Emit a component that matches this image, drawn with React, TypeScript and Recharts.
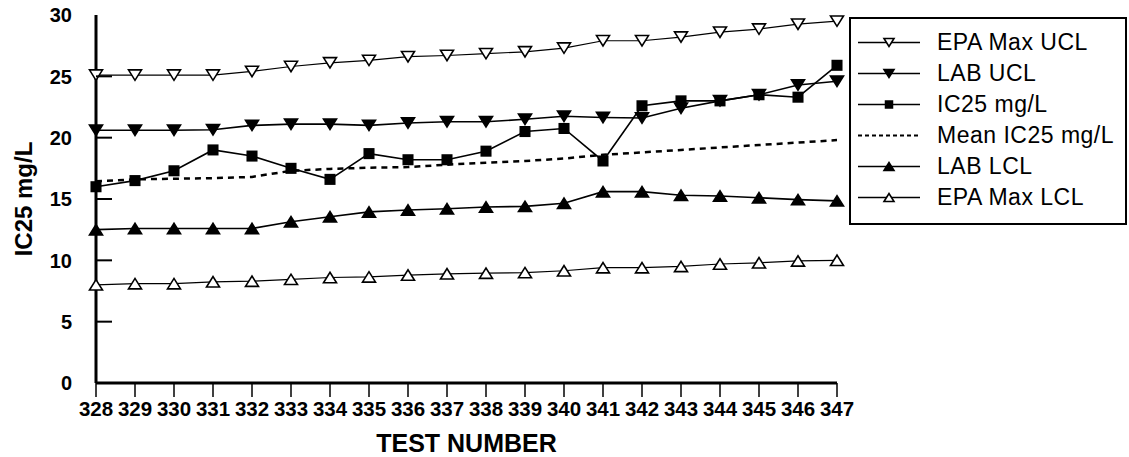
import React from "react";
import { LineChart, Line, XAxis, YAxis, Legend, Label } from "recharts";

const testNumbers = [328, 329, 330, 331, 332, 333, 334, 335, 336, 337, 338, 339, 340, 341, 342, 343, 344, 345, 346, 347];
const epaMaxUcl = [25.1, 25.1, 25.1, 25.1, 25.4, 25.8, 26.1, 26.3, 26.6, 26.7, 26.85, 27.0, 27.3, 27.9, 27.9, 28.2, 28.6, 28.85, 29.25, 29.5];
const labUcl = [20.6, 20.6, 20.6, 20.65, 21.0, 21.1, 21.1, 21.0, 21.2, 21.3, 21.3, 21.5, 21.75, 21.65, 21.6, 22.4, 23.0, 23.5, 24.3, 24.6];
const ic25 = [16.0, 16.5, 17.3, 19.0, 18.5, 17.5, 16.6, 18.7, 18.2, 18.2, 18.9, 20.5, 20.75, 18.1, 22.6, 23.0, 23.0, 23.5, 23.3, 25.9];
const meanIc25 = [16.45, 16.6, 16.65, 16.7, 16.8, 17.3, 17.45, 17.55, 17.6, 17.8, 17.95, 18.1, 18.3, 18.6, 18.8, 19.0, 19.2, 19.4, 19.6, 19.8];
const labLcl = [12.5, 12.6, 12.6, 12.6, 12.6, 13.15, 13.55, 13.95, 14.1, 14.2, 14.35, 14.4, 14.65, 15.6, 15.6, 15.3, 15.25, 15.1, 14.95, 14.85];
const epaMaxLcl = [8.0, 8.1, 8.1, 8.25, 8.3, 8.45, 8.6, 8.65, 8.8, 8.9, 8.95, 9.0, 9.15, 9.4, 9.4, 9.5, 9.7, 9.8, 9.95, 10.0];
const yTicks = [0, 5, 10, 15, 20, 25, 30];

const data = testNumbers.map((t, i) => ({
  test: t,
  epaMaxUcl: epaMaxUcl[i],
  labUcl: labUcl[i],
  ic25: ic25[i],
  meanIc25: meanIc25[i],
  labLcl: labLcl[i],
  epaMaxLcl: epaMaxLcl[i],
}));

const FONT = "'Liberation Sans', Arial, Helvetica, sans-serif";

type Shape = "triDownOpen" | "triDown" | "square" | "none" | "triUp" | "triUpOpen";

const series: { key: string; name: string; shape: Shape; width: number; dash?: string }[] = [
  { key: "epaMaxUcl", name: "EPA Max UCL", shape: "triDownOpen", width: 1.2 },
  { key: "labUcl", name: "LAB UCL", shape: "triDown", width: 1.6 },
  { key: "ic25", name: "IC25 mg/L", shape: "square", width: 1.6 },
  { key: "meanIc25", name: "Mean IC25 mg/L", shape: "none", width: 2.5, dash: "6 5" },
  { key: "labLcl", name: "LAB LCL", shape: "triUp", width: 1.6 },
  { key: "epaMaxLcl", name: "EPA Max LCL", shape: "triUpOpen", width: 1.2 },
];

const marker = (shape: Shape, cx: number, cy: number, s: number, key?: string) => {
  const h = s * 0.8;
  switch (shape) {
    case "triDownOpen":
    case "triDown":
      return (
        <polygon
          key={key}
          points={`${cx - s},${cy - h} ${cx + s},${cy - h} ${cx},${cy + h}`}
          fill={shape === "triDown" ? "#000" : "#fff"}
          stroke="#000"
          strokeWidth={1.6}
        />
      );
    case "triUpOpen":
    case "triUp":
      return (
        <polygon
          key={key}
          points={`${cx - s},${cy + h} ${cx + s},${cy + h} ${cx},${cy - h}`}
          fill={shape === "triUp" ? "#000" : "#fff"}
          stroke="#000"
          strokeWidth={1.6}
        />
      );
    case "square":
      return <rect key={key} x={cx - s * 0.85} y={cy - s * 0.85} width={s * 1.7} height={s * 1.7} fill="#000" />;
    default:
      return <g key={key} />;
  }
};

// legend keeps the series order (recharts sorts the payload by name otherwise)
const renderLegend = () => (
  <div style={{ border: "2px solid #000", background: "#fff", padding: "8px 0 10px 0", width: 278, boxSizing: "border-box" }}>
    {series.map((s) => (
      <div key={s.key} style={{ display: "flex", alignItems: "center", height: 31 }}>
        <svg width={72} height={31} style={{ flex: "none" }}>
          <line x1={7} x2={69} y1={15.5} y2={15.5} stroke="#000" strokeWidth={s.dash ? 2 : 1.3} strokeDasharray={s.dash ? "4 3" : undefined} />
          {marker(s.shape, 38, 15.5, 5)}
        </svg>
        <span style={{ marginLeft: 14, fontSize: 23, fontFamily: FONT, color: "#000", whiteSpace: "nowrap", letterSpacing: 0.5 }}>
          {s.name}
        </span>
      </div>
    ))}
  </div>
);

const YTick = (props: any) => {
  const { x, y, payload } = props;
  const v = payload.value;
  return (
    <g>
      {v > 0 && v < 30 && <line x1={x} x2={x + 16} y1={y} y2={y} stroke="#000" strokeWidth={2} />}
      <text x={x - 24} y={y} dy="0.36em" textAnchor="end" fontSize={20} fontWeight="bold" fontFamily={FONT} fill="#000">
        {v}
      </text>
    </g>
  );
};

export default function App() {
  return (
    <div style={{ position: "absolute", left: 0, top: 0, background: "#fff" }}>
      <LineChart width={1129} height={457} data={data} margin={{ top: 15, right: 292, bottom: 0, left: 0 }} style={{ fontFamily: FONT }}>
        <XAxis
          dataKey="test"
          type="number"
          domain={[328, 347]}
          ticks={testNumbers}
          interval={0}
          height={74}
          tickSize={14}
          tickMargin={4}
          axisLine={{ stroke: "#000", strokeWidth: 3 }}
          tickLine={{ stroke: "#000", strokeWidth: 1.5 }}
          tick={{ fill: "#000", fontSize: 20.5, fontWeight: "bold" }}
        >
          <Label value="TEST NUMBER" position="insideBottom" offset={5} style={{ fontSize: 25, fontWeight: "bold", fill: "#000" }} />
        </XAxis>
        <XAxis xAxisId="top" orientation="top" dataKey="test" type="number" domain={[328, 347]} height={0} tick={false} tickLine={false} axisLine={{ stroke: "#000", strokeWidth: 2.5 }} />
        <YAxis
          domain={[0, 30]}
          ticks={yTicks}
          width={96}
          tickSize={0}
          tickMargin={0}
          axisLine={{ stroke: "#000", strokeWidth: 3 }}
          tickLine={false}
          tick={<YTick />}
        >
          <Label value="IC25 mg/L" angle={-90} position="insideLeft" offset={23} style={{ fontSize: 24, fontWeight: "bold", fill: "#000", textAnchor: "middle" }} />
        </YAxis>
        <YAxis yAxisId="right" orientation="right" domain={[0, 30]} width={0} tick={false} tickLine={false} axisLine={{ stroke: "#000", strokeWidth: 2.5 }} />
        <Legend layout="vertical" align="center" verticalAlign="middle" content={renderLegend} wrapperStyle={{ left: 849, top: 17, width: 278 }} />
        {series.map((s) => (
          <Line
            key={s.key}
            dataKey={s.key}
            name={s.name}
            type="linear"
            stroke="#000"
            strokeWidth={s.width}
            strokeDasharray={s.dash}
            isAnimationActive={false}
            dot={s.shape === "none" ? false : (p: any) => marker(s.shape, p.cx, p.cy, 6.5, `${s.key}-${p.index}`)}
            activeDot={false}
          />
        ))}
      </LineChart>
    </div>
  );
}
